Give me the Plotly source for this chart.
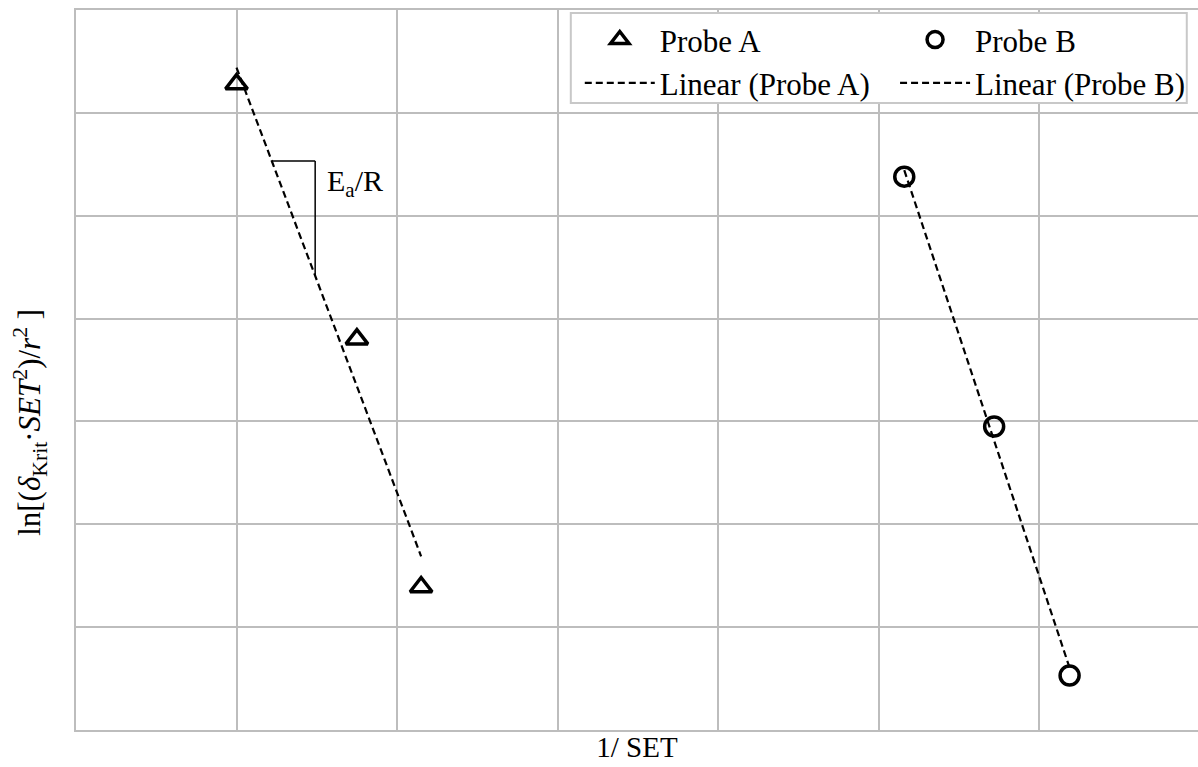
import numpy as np
import plotly.graph_objects as go

# ---- data (arbitrary axis units) ----
probe_a_x = [1.00, 1.75, 2.15]
probe_a_y = [6.28, 3.80, 1.39]
probe_b_x = [5.16, 5.72, 6.19]
probe_b_y = [5.38, 2.95, 0.53]

x_title = "1/ SET"
y_title = "ln[(<i>δ</i><sub>Krit</sub>·<i>SET</i><sup>2</sup>)/<i>r</i><sup>2</sup> ]"
slope_label = "E<sub>a</sub>/R"

FONT = "Liberation Serif"
GRID = "#bdbdbd"

# linear trendlines (least squares over each series' x span)
ka, ba = np.polyfit(probe_a_x, probe_a_y, 1)
kb, bb = np.polyfit(probe_b_x, probe_b_y, 1)
fit_a_x = [min(probe_a_x), max(probe_a_x)]
fit_a_y = [ka * v + ba for v in fit_a_x]
fit_b_x = [min(probe_b_x), max(probe_b_x)]
fit_b_y = [kb * v + bb for v in fit_b_x]

DASH = "7px,4px"

fig = go.Figure()
fig.add_trace(go.Scatter(
    x=probe_a_x, y=probe_a_y, mode="markers", name="Probe A", legend="legend",
    marker=dict(symbol="triangle-up-open", size=19, color="black",
                line=dict(width=3.5, color="black")),
))
fig.add_trace(go.Scatter(
    x=fit_a_x, y=fit_a_y, mode="lines", name="Linear (Probe A)", legend="legend",
    line=dict(color="black", width=2.2, dash=DASH),
))
fig.add_trace(go.Scatter(
    x=probe_b_x, y=probe_b_y, mode="markers", name="Probe B", legend="legend2",
    marker=dict(symbol="circle-open", size=19, color="black",
                line=dict(width=3.5, color="black")),
))
fig.add_trace(go.Scatter(
    x=fit_b_x, y=fit_b_y, mode="lines", name="Linear (Probe B)", legend="legend2",
    line=dict(color="black", width=2.2, dash=DASH),
))

# slope triangle on trendline A
sx1, sx2 = 1.22, 1.49
sy1 = ka * sx1 + ba
sy2 = ka * sx2 + ba
fig.add_shape(type="line", x0=sx1, y0=sy1, x1=sx2, y1=sy1,
              line=dict(color="black", width=1.5), layer="above")
fig.add_shape(type="line", x0=sx2, y0=sy1, x1=sx2, y1=sy2,
              line=dict(color="black", width=1.5), layer="above")
fig.add_annotation(x=sx2 + 0.06, y=5.32, xref="x", yref="y", text=slope_label,
                   showarrow=False, xanchor="left", yanchor="middle",
                   font=dict(family=FONT, size=30, color="black"))

# y-axis title (rotated, placed as in the reference)
fig.add_annotation(x=-0.041, y=0.428, xref="paper", yref="paper", text=y_title,
                   showarrow=False, textangle=-90, xanchor="center", yanchor="middle",
                   font=dict(family=FONT, size=31, color="black"))

# legend frame (both legend columns sit inside it)
fig.add_shape(type="rect", xref="paper", yref="paper",
              x0=0.441, x1=0.990, y0=0.871, y1=0.996,
              fillcolor="white", line=dict(color="#c8c8c8", width=2), layer="above")

fig.update_xaxes(
    range=[0, 6.99], tick0=0, dtick=1, showticklabels=False, ticks="",
    showgrid=True, gridcolor=GRID, gridwidth=2, zeroline=False,
    showline=True, linecolor=GRID, linewidth=2, mirror=True,
    title=dict(text=x_title, font=dict(family=FONT, size=29, color="black"), standoff=6),
)
fig.update_yaxes(
    range=[0, 7], tick0=0, dtick=1, showticklabels=False, ticks="",
    showgrid=True, gridcolor=GRID, gridwidth=2, zeroline=False,
    showline=True, linecolor=GRID, linewidth=2, mirror=False,
)

leg_common = dict(
    orientation="v", xanchor="left", y=0.996, yanchor="top",
    itemwidth=70, bgcolor="rgba(0,0,0,0)", borderwidth=0,
    font=dict(family=FONT, size=31, color="black"), traceorder="normal",
)
fig.update_layout(
    width=1198, height=767,
    margin=dict(l=76, r=0, t=10, b=37),
    paper_bgcolor="white", plot_bgcolor="white",
    font=dict(family=FONT, size=28, color="black"),
    showlegend=True,
    legend=dict(x=0.449, **leg_common),
    legend2=dict(x=0.730, **leg_common),
)

fig.write_html("out.html")
